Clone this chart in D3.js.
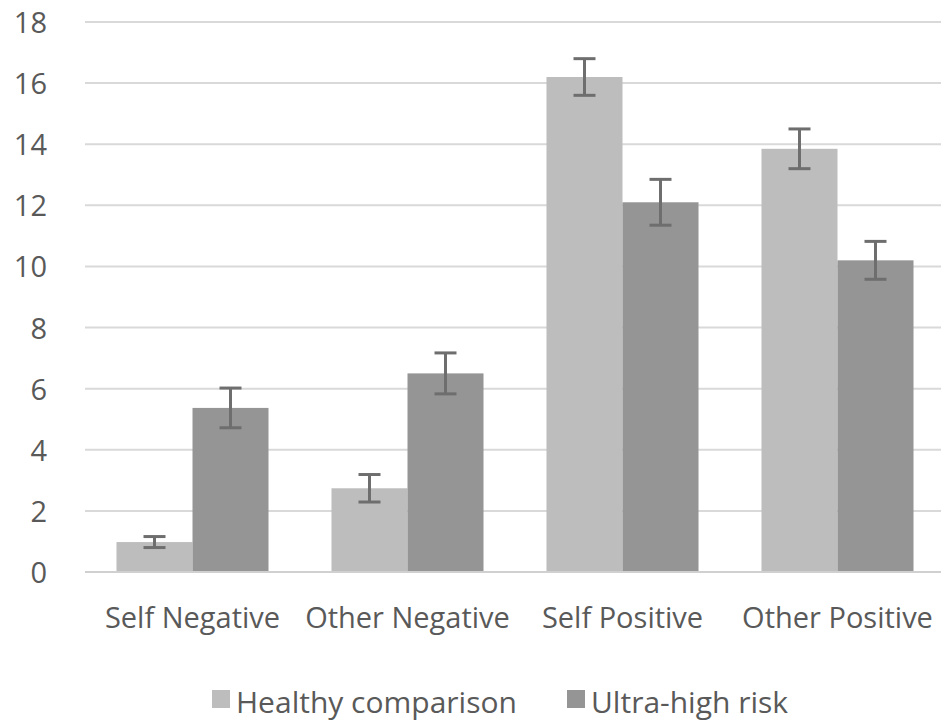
<!DOCTYPE html>
<html><head><meta charset="utf-8">
<script src="https://cdn.jsdelivr.net/npm/d3@7"></script>
<style>body{margin:0;background:#fff}svg{display:block}</style>
</head><body>
<svg id="c" width="941" height="722"></svg>
<script>
const categories = ["Self Negative", "Other Negative", "Self Positive", "Other Positive"];
const seriesNames = ["Healthy comparison", "Ultra-high risk"];
const healthy = [0.98, 2.74, 16.2, 13.85];
const healthyErr = [0.18, 0.45, 0.6, 0.65];
const uhr = [5.37, 6.5, 12.1, 10.2];
const uhrErr = [0.65, 0.67, 0.75, 0.62];
const yTicks = [0, 2, 4, 6, 8, 10, 12, 14, 16, 18];

(function () {
const colors = ["#bdbdbd", "#959595"];
const font = "'Open Sans', 'DejaVu Sans', sans-serif";
const svg = d3.select("#c");
const W = 941;
const pLeft = 85, pRight = 945, pTop = 22, pBottom = 572;

const x = d3.scaleBand().domain(categories).range([pLeft, pRight]).paddingInner(0.293).paddingOuter(0.1465);
const xs = d3.scaleBand().domain(seriesNames).range([0, x.bandwidth()]);
const y = d3.scaleLinear().domain([0, 18]).range([pBottom, pTop]);

svg.append("g").selectAll("line").data(yTicks.filter(d => d > 0)).join("line")
  .attr("x1", pLeft).attr("x2", W).attr("y1", d => y(d)).attr("y2", d => y(d))
  .attr("stroke", "#d9d9d9").attr("stroke-width", 2);

const yAxis = d3.axisLeft(y).tickValues(yTicks).tickSize(0).tickPadding(0);
const gy = svg.append("g").attr("transform", "translate(47,0)").call(yAxis);
gy.select(".domain").remove();
gy.selectAll("text").attr("font-family", font).attr("font-size", 29).attr("fill", "#595959").attr("dy", "0.36em");

const data = categories.map((c, i) => ({c, vals: [
  {s: seriesNames[0], v: healthy[i], e: healthyErr[i]},
  {s: seriesNames[1], v: uhr[i], e: uhrErr[i]}]}));

const g = svg.append("g").selectAll("g").data(data).join("g")
  .attr("transform", d => `translate(${x(d.c)},0)`);
g.selectAll("rect").data(d => d.vals).join("rect")
  .attr("x", d => xs(d.s)).attr("width", xs.bandwidth())
  .attr("y", d => y(d.v)).attr("height", d => y(0) - y(d.v))
  .attr("fill", (d, i) => colors[i]);

svg.append("line").attr("x1", pLeft).attr("x2", W).attr("y1", y(0)).attr("y2", y(0))
  .attr("stroke", "#d0d0d0").attr("stroke-width", 2);

const eb = g.selectAll("g.err").data(d => d.vals).join("g").attr("class", "err")
  .attr("stroke", "#6e6e6e").attr("stroke-width", 3);
const cap = 11;
const cx = d => xs(d.s) + xs.bandwidth() / 2;
eb.append("line").attr("x1", cx).attr("x2", cx)
  .attr("y1", d => y(d.v + d.e)).attr("y2", d => y(d.v - d.e));
eb.append("line").attr("x1", d => cx(d) - cap).attr("x2", d => cx(d) + cap)
  .attr("y1", d => y(d.v + d.e)).attr("y2", d => y(d.v + d.e));
eb.append("line").attr("x1", d => cx(d) - cap).attr("x2", d => cx(d) + cap)
  .attr("y1", d => y(d.v - d.e)).attr("y2", d => y(d.v - d.e));

const xAxis = d3.axisBottom(x).tickSize(0).tickPadding(0);
const gx = svg.append("g").attr("transform", "translate(0,628)").call(xAxis);
gx.select(".domain").remove();
gx.selectAll("text").attr("font-family", font).attr("font-size", 29).attr("fill", "#595959").attr("y", 0).attr("dy", 0);

const legend = svg.append("g");
const legX = [212, 567];
seriesNames.forEach((s, i) => {
  legend.append("rect").attr("x", legX[i]).attr("y", 690).attr("width", 18).attr("height", 18).attr("fill", colors[i]);
  legend.append("text").attr("x", legX[i] + 24).attr("y", 713)
    .attr("font-family", font).attr("font-size", 30).attr("fill", "#595959").text(s);
});
})();
</script>
</body></html>
